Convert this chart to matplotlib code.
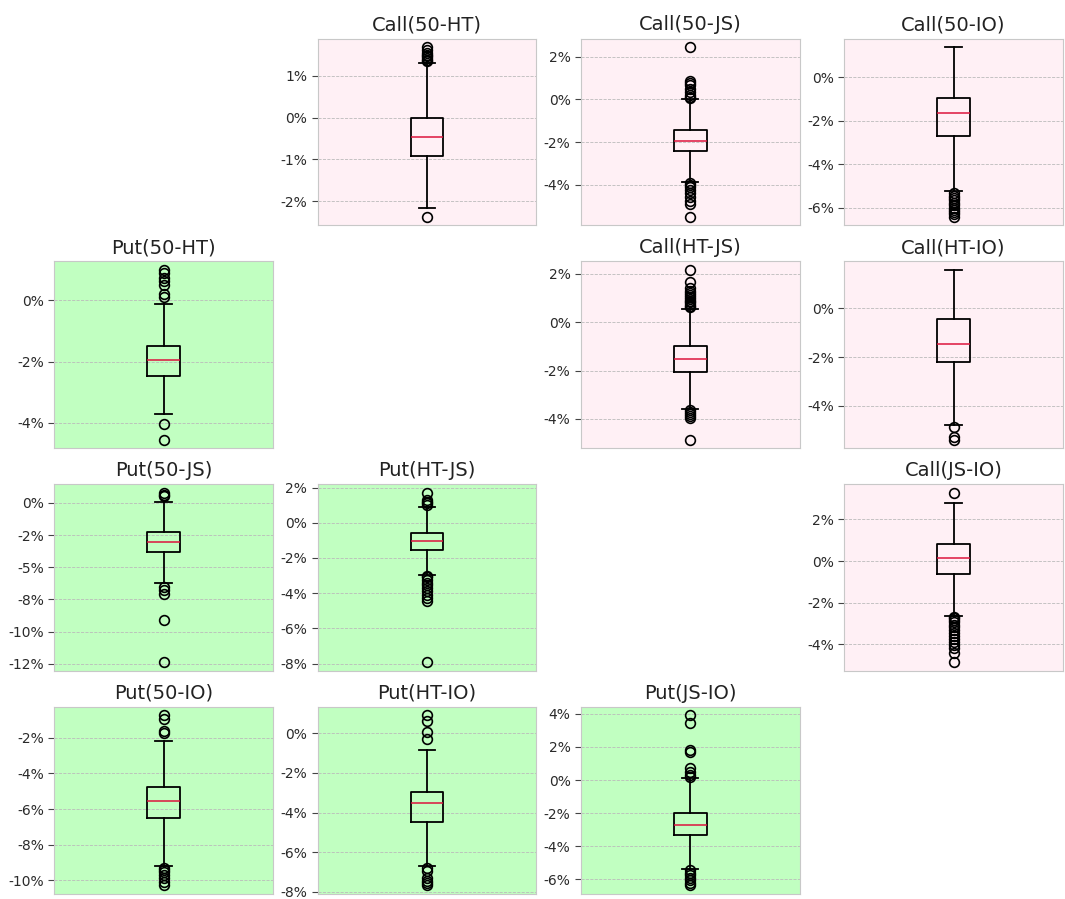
import matplotlib
matplotlib.use("Agg")
import matplotlib.pyplot as plt
from matplotlib.ticker import FuncFormatter

# markets, in grid order
markets = ["50", "HT", "JS", "IO"]
pairs = [(0, 1), (0, 2), (0, 3), (1, 2), (1, 3), (2, 3)]

# box statistics (in %), one entry per pair
call_med = [-0.47, -1.97, -1.64, -1.50, -1.48, 0.16]
call_q1 = [-0.91, -2.44, -2.69, -2.07, -2.20, -0.60]
call_q3 = [-0.02, -1.45, -0.95, -1.00, -0.44, 0.83]
call_lo = [-2.15, -3.86, -5.25, -3.60, -4.77, -2.62]
call_hi = [1.31, 0.00, 1.40, 0.57, 1.58, 2.80]
call_fliers = [
    [1.35, 1.38, 1.42, 1.46, 1.50, 1.55, 1.60, 1.68, -2.37],
    [0.05, 0.12, 0.20, 0.35, 0.50, 0.65, 0.78, 0.86, 2.44,
     -3.92, -4.00, -4.10, -4.25, -4.40, -4.55, -4.74, -4.90, -5.50],
    [-5.32, -5.45, -5.55, -5.65, -5.80, -5.90, -6.00, -6.10, -6.20, -6.30, -6.43],
    [0.62, 0.68, 0.75, 0.82, 0.90, 0.98, 1.05, 1.12, 1.20, 1.30, 1.40, 1.68, 2.17,
     -3.65, -3.72, -3.80, -3.88, -3.95, -4.86],
    [-4.87, -5.28, -5.39],
    [3.29, -2.68, -2.75, -2.85, -2.95, -3.05, -3.15, -3.30, -3.45, -3.60,
     -3.75, -3.90, -4.05, -4.20, -4.40, -4.87],
]

put_med = [-1.94, -3.05, -5.55, -1.05, -3.54, -2.70]
put_q1 = [-2.47, -3.84, -6.52, -1.55, -4.46, -3.33]
put_q3 = [-1.50, -2.24, -4.77, -0.56, -2.95, -2.00]
put_lo = [-3.72, -6.24, -9.20, -2.95, -6.70, -5.35]
put_hi = [-0.11, 0.08, -2.19, 0.88, -0.84, 0.10]
put_fliers = [
    [0.11, 0.20, 0.50, 0.64, 0.75, 0.91, 1.00, -4.05, -4.55],
    [0.50, 0.65, 0.80, -6.50, -6.80, -7.10, -9.08, -12.40],
    [-0.75, -0.94, -1.60, -1.75, -9.30, -9.40, -9.55, -9.70, -9.85, -10.10, -10.26],
    [1.00, 1.10, 1.20, 1.30, 1.71, -3.00, -3.10, -3.25, -3.40, -3.55, -3.70,
     -3.85, -4.10, -4.25, -4.43, -7.93],
    [0.90, 0.60, 0.08, -0.30, -6.80, -6.95, -7.30, -7.45, -7.55, -7.66],
    [3.90, 3.45, 1.80, 1.70, 0.70, 0.50, 0.30, 0.20,
     -5.45, -5.60, -5.75, -5.90, -6.05, -6.20, -6.34],
]


def pct(v, pos):
    if abs(v) < 1e-9:
        v = 0.0
    return f"{v:.0f}%"


def draw_box(ax, title, med, q1, q3, lo, hi, fliers, face):
    stats = [dict(med=med, q1=q1, q3=q3, whislo=lo, whishi=hi, fliers=fliers)]
    lw = 1.3
    ax.bxp(stats, positions=[1],
           medianprops=dict(color="crimson", linewidth=1.1),
           boxprops=dict(color="black", linewidth=lw),
           whiskerprops=dict(color="black", linewidth=lw),
           capprops=dict(color="black", linewidth=lw),
           flierprops=dict(marker="o", markerfacecolor="none",
                           markeredgecolor="black", markersize=7,
                           markeredgewidth=1.2))
    ax.set_facecolor(face)
    ax.set_title(title, fontsize=14, color="#222222")
    ax.set_xticks([])
    ax.set_xlim(0.5, 1.5)
    ax.yaxis.set_major_formatter(FuncFormatter(pct))
    ax.tick_params(axis="y", labelsize=10, labelcolor="#2a2a2a",
                   color="#444444", length=4)
    ax.grid(axis="y", linestyle="--", color="#bbbbbb", linewidth=0.6)
    ax.set_axisbelow(True)
    for s in ax.spines.values():
        s.set_color("#c8c8c8")


fig, axes = plt.subplots(4, 4, figsize=(10.65, 8.99), dpi=100)
fig.subplots_adjust(left=0.051, right=0.998, top=0.957, bottom=0.006,
                    wspace=0.205, hspace=0.193)

for ax in axes.flat:
    ax.axis("off")

for k, (i, j) in enumerate(pairs):
    name = f"{markets[i]}-{markets[j]}"
    ax = axes[i, j]
    ax.axis("on")
    draw_box(ax, f"Call({name})", call_med[k], call_q1[k], call_q3[k],
             call_lo[k], call_hi[k], call_fliers[k], "#fff0f5")
    ax = axes[j, i]
    ax.axis("on")
    draw_box(ax, f"Put({name})", put_med[k], put_q1[k], put_q3[k],
             put_lo[k], put_hi[k], put_fliers[k], "#c1ffc1")

fig.savefig("out.png", dpi=100)
